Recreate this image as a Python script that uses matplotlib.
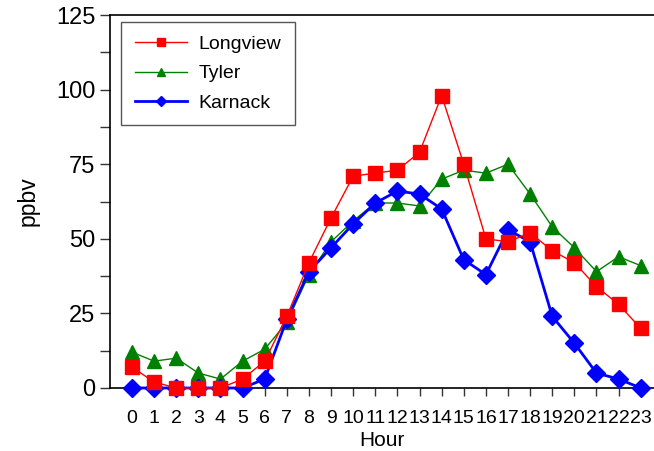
import matplotlib
matplotlib.use("Agg")
import matplotlib.pyplot as plt
from matplotlib.ticker import MultipleLocator

plt.rcParams['font.family'] = ['Liberation Sans', 'DejaVu Sans']

hours = list(range(24))
hour_labels = [str(h) for h in hours]

longview = [7, 2, 0, 0, 0, 3, 9, 24, 42, 57, 71, 72, 73, 79, 98, 75,
            50, 49, 52, 46, 42, 34, 28, 20]
tyler = [12, 9, 10, 5, 3, 9, 13, 22, 38, 49, 56, 62, 62, 61, 70, 73,
         72, 75, 65, 54, 47, 39, 44, 41]
karnack = [0, 0, 0, 0, 0, 0, 3, 23, 39, 47, 55, 62, 66, 65, 60, 43,
           38, 53, 49, 24, 15, 5, 3, 0]

fig = plt.figure(figsize=(6.54, 4.51), dpi=100)
ax = fig.add_axes([0.168, 0.1397, 0.832, 0.827])

l_lv, = ax.plot(hours, longview, color='#ff0000', lw=1.0, marker='s',
                ms=10, mec='#ff0000', mfc='#ff0000', zorder=4,
                clip_on=False, label='Longview')
l_ty, = ax.plot(hours, tyler, color='#008000', lw=1.0, marker='^',
                ms=10, mec='#008000', mfc='#008000', zorder=2,
                clip_on=False, label='Tyler')
l_ka, = ax.plot(hours, karnack, color='#0000ff', lw=2.0, marker='D',
                ms=9, mec='#0000ff', mfc='#0000ff', zorder=3,
                clip_on=False, label='Karnack')

ax.set_xlim(-1, 23.6)
ax.set_ylim(0, 125)
ax.set_xticks(hours)
ax.set_xticklabels(hour_labels, fontsize=14)
ax.yaxis.set_major_locator(MultipleLocator(25))
ax.yaxis.set_minor_locator(MultipleLocator(12.5))
ax.tick_params(axis='y', which='major', labelsize=17, length=7, width=1,
               direction='out', color='#333333')
ax.tick_params(axis='y', which='minor', length=7, width=1, direction='out',
               color='#333333')
ax.tick_params(axis='x', which='major', length=6, width=1, direction='out',
               pad=10, color='#333333')

ax.spines['right'].set_visible(False)
for s in ('left', 'top', 'bottom'):
    ax.spines[s].set_linewidth(1.2)

ax.set_xlabel('Hour', fontsize=15, labelpad=3)
ax.set_ylabel('ppbv', fontsize=16.5, labelpad=12)

leg = ax.legend(handles=[l_lv, l_ty, l_ka], loc='upper left',
                bbox_to_anchor=(0.008, 1.0), fontsize=14, fancybox=False,
                framealpha=1, edgecolor='#555555', handlelength=2.7,
                borderpad=0.7, labelspacing=0.6, handletextpad=0.6,
                borderaxespad=0.35, markerscale=0.6)
leg.get_frame().set_linewidth(1.0)

fig.savefig('out.png', dpi=100)
